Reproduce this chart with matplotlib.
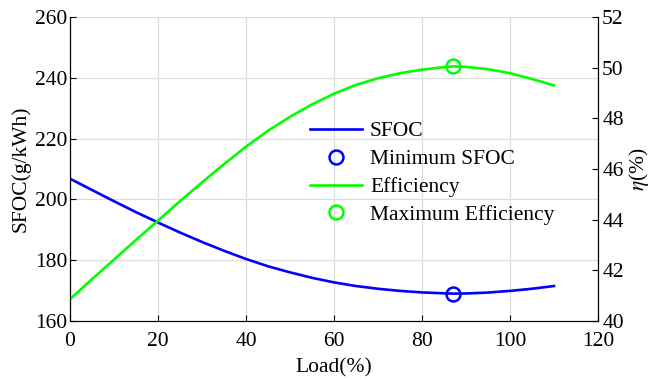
import numpy as np
import matplotlib
matplotlib.use('Agg')
import matplotlib.pyplot as plt

# Data
load = [0, 5, 10, 15, 20, 25, 30, 35, 40, 45, 50, 55, 60, 65, 70, 75, 80, 85, 87,
        90, 95, 100, 105, 110]
sfoc = [206.8, 203.1, 199.4, 195.8, 192.4, 189.1, 186.0, 183.1, 180.4, 178.0,
        176.0, 174.2, 172.7, 171.5, 170.6, 169.9, 169.4, 169.1, 169.0,
        169.05, 169.35, 169.9, 170.6, 171.5]
eff = [40.86, 41.65, 42.42, 43.2, 43.96, 44.73, 45.47, 46.19, 46.88, 47.51,
       48.06, 48.55, 48.97, 49.32, 49.58, 49.78, 49.92, 50.02, 50.05,
       50.03, 49.94, 49.78, 49.55, 49.3]
min_load, min_sfoc = 87, 169.0
max_load, max_eff = 87, 50.05

plt.rcParams['font.family'] = ['Liberation Serif', 'DejaVu Serif']
plt.rcParams['mathtext.fontset'] = 'stix'
plt.rcParams['font.size'] = 15.5

fig = plt.figure(figsize=(6.51, 3.80), dpi=100)
ax = fig.add_axes([0.1075, 0.1553, 0.8111, 0.80])
ax2 = ax.twinx()

l1, = ax.plot(load, sfoc, color='#0000ff', lw=1.9, label='SFOC',
              solid_joinstyle='round')
m1, = ax.plot([min_load], [min_sfoc], 'o', mfc='none', mec='#0000ff', ms=10,
              mew=1.8, label='Minimum SFOC')
l2, = ax2.plot(load, eff, color='#00ff00', lw=1.9, label='Efficiency',
               solid_joinstyle='round')
m2, = ax2.plot([max_load], [max_eff], 'o', mfc='none', mec='#00ff00', ms=10,
               mew=1.8, label='Maximum Efficiency')

ax.set_xlim(0, 120)
ax.set_ylim(160, 260)
ax2.set_ylim(40, 52)
ax.set_xticks(np.arange(0, 121, 20))
ax.set_yticks(np.arange(160, 261, 20))
ax2.set_yticks(np.arange(40, 53, 2))

ax.grid(True, color='#dddddd', lw=0.9)
ax.set_axisbelow(True)
for a in (ax, ax2):
    a.spines['top'].set_visible(False)
    a.tick_params(direction='in', length=4, width=0.8, colors='black')
ax.tick_params(axis='y', pad=2)
ax.tick_params(axis='x', pad=8)
ax2.tick_params(axis='y', pad=3)

ax.set_xlabel('Load(%)', labelpad=5)
ax.set_ylabel('SFOC(g/kWh)', labelpad=3)
ax2.set_ylabel(r'$\eta$(%)', labelpad=2)

fig.legend(handles=[l1, m1, l2, m2], frameon=False, loc='upper left',
           bbox_to_anchor=(291 / 651, 1 - 102 / 380), handlelength=2.4,
           handletextpad=0.37, labelspacing=0.36, numpoints=1, fontsize=15.5,
           borderpad=0.4)

fig.savefig('out.png', dpi=100)
